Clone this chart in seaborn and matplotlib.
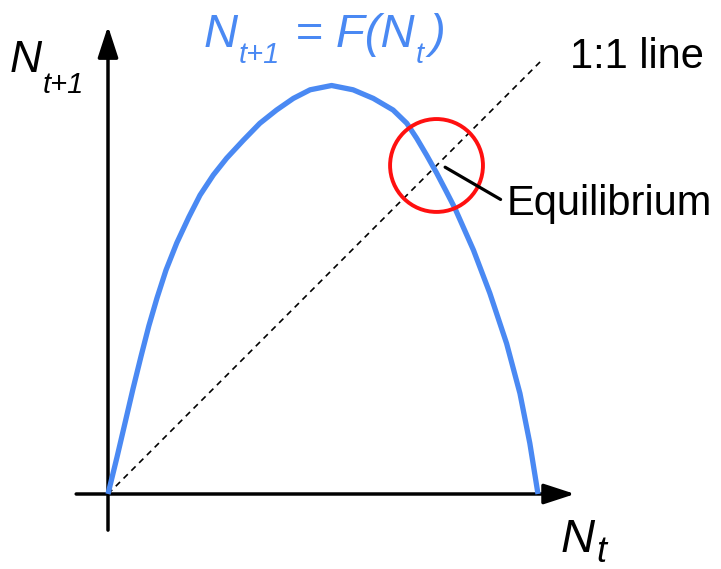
import numpy as np
import pandas as pd
import seaborn as sns
import matplotlib
matplotlib.use("Agg")
from matplotlib import pyplot as plt
from matplotlib.patches import Circle

# population now (N_t) and next generation (N_t+1)
n_t = [0.000, 0.021, 0.040, 0.058, 0.077, 0.095, 0.114, 0.135, 0.160, 0.188,
       0.214, 0.245, 0.276, 0.315, 0.353, 0.392, 0.431, 0.470, 0.520, 0.570,
       0.617, 0.663, 0.695, 0.718, 0.741, 0.764, 0.786, 0.807, 0.850, 0.888,
       0.927, 0.958, 0.981, 1.000]
n_next = [0.000, 0.086, 0.167, 0.244, 0.321, 0.391, 0.456, 0.521, 0.584, 0.644,
          0.695, 0.742, 0.781, 0.823, 0.862, 0.893, 0.920, 0.940, 0.950, 0.940,
          0.920, 0.893, 0.862, 0.827, 0.788, 0.747, 0.705, 0.664, 0.567, 0.467,
          0.350, 0.234, 0.118, 0.000]

# the 1:1 line
one_to_one = [0.0, 1.01]

# equilibrium where the curve meets the 1:1 line
eq_point = (0.764, 0.764)
eq_radius = 0.108

BLUE = "#4A89F3"

sns.set_theme(style="white")
plt.rcParams["font.family"] = ["Liberation Sans", "DejaVu Sans"]
plt.rcParams["text.color"] = "black"


def px(x, y):
    # picture position -> data position (origin of the axes at 108, 494)
    return (x - 108) / 430, (494 - y) / 430


fig = plt.figure(figsize=(7.21, 5.69), dpi=100)
ax = fig.add_axes([0, 0, 1, 1])
ax.set_xlim(-108 / 430, 613 / 430)
ax.set_ylim(-75 / 430, 494 / 430)
ax.axis("off")

curve = pd.DataFrame({"Nt": n_t, "Nt1": n_next})
line = pd.DataFrame({"Nt": one_to_one, "Nt1": one_to_one})

# dashed 1:1 line
sns.lineplot(data=line, x="Nt", y="Nt1", ax=ax, color="black", lw=1.2,
             linestyle=(0, (3.6, 3.0)), sort=False, estimator=None, zorder=2)

# axes with arrow heads
arrow = dict(arrowstyle="-|>,head_length=1.9,head_width=0.62", lw=2.5,
             color="black", shrinkA=0, shrinkB=0, mutation_scale=10)
ax.annotate("", xy=(1.086, 0), xytext=(-0.074, 0), arrowprops=arrow)
ax.annotate("", xy=(0, 1.088), xytext=(0, -0.084), arrowprops=arrow)

# F(N_t)
sns.lineplot(data=curve, x="Nt", y="Nt1", ax=ax, color=BLUE, lw=3.8,
             sort=False, estimator=None, zorder=3,
             solid_joinstyle="round", solid_capstyle="butt")

# equilibrium circle and pointer
ax.add_patch(Circle(eq_point, eq_radius, fill=False, edgecolor="#FF1010",
                    lw=2.8, zorder=4))
ax.plot([0.784, 0.913], [0.760, 0.685], color="black", lw=2.3, zorder=4)

ax.text(*px(507, 215), "Equilibrium", fontsize=30, ha="left", va="baseline")
ax.text(*px(570, 68), "1:1 line", fontsize=30, ha="left", va="baseline")

# italic labels with subscripts, each piece set after the previous one
# (text, size, baseline in picture pixels, gap after in pixels)
title_parts = [("N", 34, 47, 1), ("t+1", 21, 63, 2), (" = F(N", 34, 47, 1),
               ("t", 21, 63, 5), (")", 34, 47, 0)]
ylabel_parts = [("N", 32, 72, 1), ("t+1", 21, 93, 0)]
xlabel_parts = [("N", 34, 552, 1), ("t", 26, 562, 0)]

renderer = fig.canvas.get_renderer()


def chain(parts, x0, color="black"):
    x = x0
    for txt, size, base, gap in parts:
        t = ax.text(*px(x, base), txt, fontsize=size, fontstyle="italic",
                    color=color, ha="left", va="baseline")
        bb = t.get_window_extent(renderer)
        x = bb.x1 + gap


chain(title_parts, 204, BLUE)
chain(ylabel_parts, 10)
chain(xlabel_parts, 561)

fig.savefig("out.png", dpi=100)
